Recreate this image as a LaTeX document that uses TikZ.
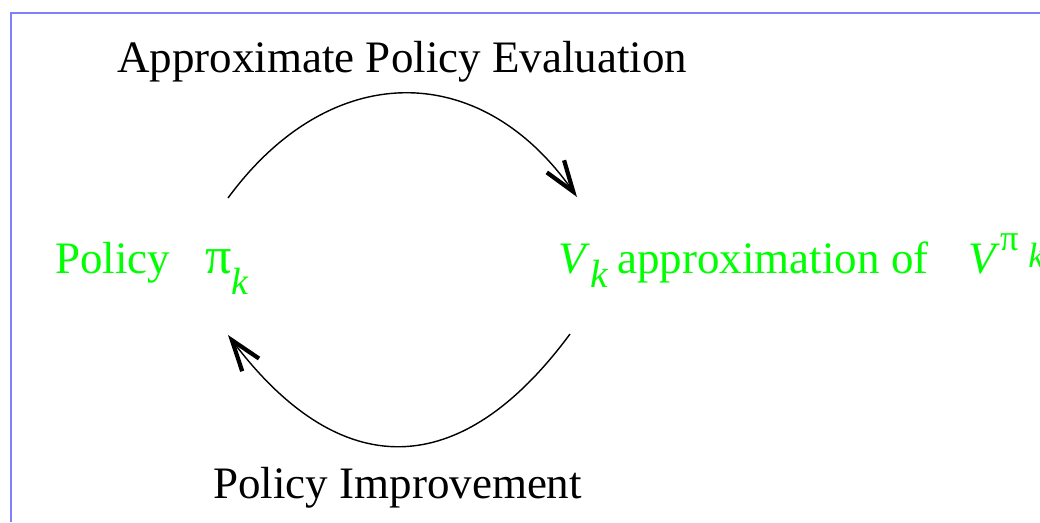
\documentclass[tikz,border=0pt]{standalone}
\usepackage{fontspec}
\setmainfont{Liberation Serif}
\usetikzlibrary{arrows.meta}
\definecolor{verde}{RGB}{0,255,0}
\definecolor{cornice}{RGB}{128,128,255}

\begin{document}
\begin{tikzpicture}[x=0.025cm,y=-0.025cm,
  testo/.style={anchor=base west,inner sep=0pt,font=\fontsize{32}{38}\selectfont},
  testov/.style={testo,text=verde},
  freccia/.style={line width=1pt,-{Straight Barb[length=22pt,width=15pt,line width=3pt]}}]

\useasboundingbox (0,0) rectangle (1040,522);
\draw[cornice,line width=1.5pt] (11,522) -- (11,13) -- (1040,13);

\node[testo] (pe) at (117,72) {Approximate Policy Evaluation};
\node[testo] (pi) at (213,498) {Policy Improvement};

\node[testov] (pol) at (55,273) {Policy};
\node[testov] (pik) at (205,273) {{\fontsize{37}{40}\selectfont π}\raisebox{-15.5pt}{\fontsize{27}{30}\selectfont\itshape k}};
\node[testov] (vk) at (558,273) {\textit{V}\raisebox{-10pt}{\fontsize{28}{30}\selectfont\itshape k}};
\node[testov] (appr) at (617,273) {approximation of};
\node[testov] (vpik) at (968,273) {\textit{V}\raisebox{16pt}{\fontsize{26}{28}\selectfont π}\hspace{7pt}\raisebox{4pt}{\fontsize{25}{28}\selectfont\itshape k}};

% estremi degli archi
\coordinate (a1) at (228,198);
\coordinate (a2) at (577,197);
\coordinate (b1) at (570,334);
\coordinate (b2) at (228,335);

\draw[freccia] (a1) .. controls (330,59) and (480,59) .. (a2);
\draw[freccia] (b1) .. controls (460,483) and (340,483) .. (b2);

\end{tikzpicture}
\end{document}
